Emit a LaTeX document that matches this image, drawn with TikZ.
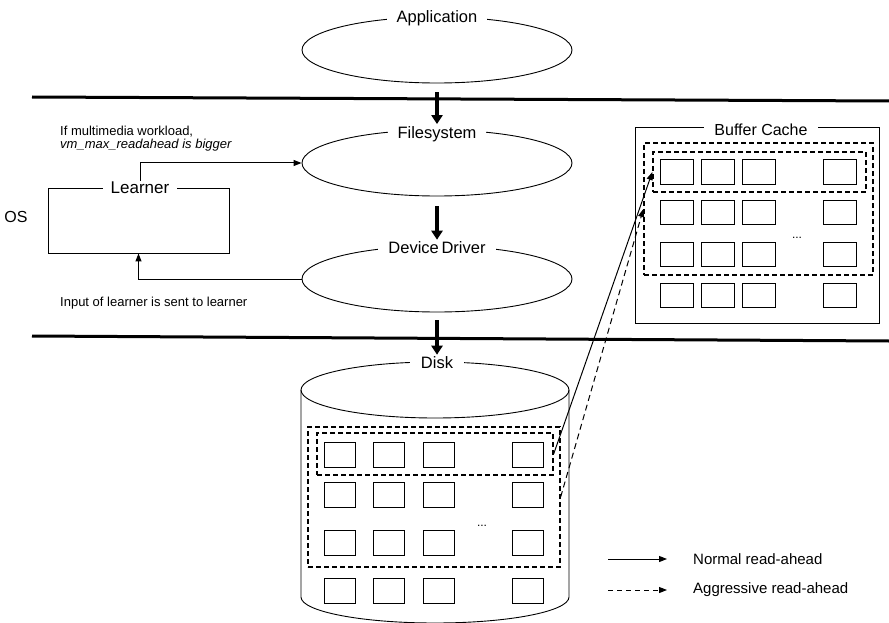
\documentclass[tikz,border=0pt]{standalone}
\usepackage{fontspec}
\setmainfont{Liberation Sans}
\usetikzlibrary{shapes.geometric,arrows.meta}
\begin{document}
\begin{tikzpicture}[x=1pt,y=-1pt,
  lbl/.style={fill=white,inner xsep=10pt,inner ysep=1pt,font=\fontsize{16.5}{18}\selectfont},
  layer/.style={ellipse,draw,line width=0.9pt,minimum width=270pt,minimum height=66pt,inner sep=0pt},
  dblk/.style={draw,line width=1pt,minimum width=31pt,minimum height=25pt,inner sep=0pt},
  cblk/.style={draw,line width=1pt,minimum width=33pt,minimum height=24pt,inner sep=0pt},
  flow/.style={line width=3.5pt,-{Triangle[width=11pt,length=9pt]}},
  conn/.style={line width=1pt,-{Triangle[width=6pt,length=8pt]}},
  dashbox/.style={draw,line width=1.3pt,dash pattern=on 5pt off 3pt,inner sep=0pt},
  divider/.style={line width=3pt},
  note/.style={font=\fontsize{13}{13}\selectfont,align=left,inner sep=0pt},
  plainbox/.style={draw,line width=0.9pt,inner sep=0pt}
]
\useasboundingbox (0,0) rectangle (889,623);

% layer dividers
\coordinate (t1) at (32,97);  \coordinate (t2) at (889,101);
\coordinate (b1) at (32,336); \coordinate (b2) at (889,341);
\draw[divider] (t1) -- (t2);
\draw[divider] (b1) -- (b2);

% OS label
\node[font=\fontsize{16}{18}\selectfont,inner sep=0pt] (os) at (16,217) {OS};

% layer ellipses
\node[layer] (app) at (437,50) {};
\node[lbl] (appl) at (437,18) {Application};
\node[layer] (fs) at (437,163) {};
\node[lbl] (fsl) at (437,134) {Filesystem};
\node[layer] (dd) at (437,279) {};
\node[lbl] (ddl) at (437,248) {Device\,Driver};

% disk cylinder
\draw[line width=0.9pt] (435,390) ellipse [x radius=134pt, y radius=28pt];
\draw[line width=0.9pt] (301,390) -- (301,597) arc[start angle=180, end angle=360, x radius=134pt, y radius=26pt] -- (569,390);
\node[lbl,inner xsep=11pt] (diskl) at (437,363) {Disk};

% flow arrows
\draw[flow,shorten <=9pt,shorten >=1pt] (app.south) -- (fsl.north);
\draw[flow,shorten <=10pt,shorten >=1pt] (fs.south) -- (ddl.north);
\draw[flow,shorten <=8pt,shorten >=1pt] (dd.south) -- (diskl.north);

% learner
\node[plainbox,minimum width=181pt,minimum height=65pt] (learner) at (138.5,220.5) {};
\node[lbl,inner xsep=8pt,font=\fontsize{17}{18}\selectfont] (ll) at (140,188) {Learner};
\draw[conn] (ll.north) |- (fs.west);
\draw[conn] (dd.west) -| (learner.south);
\node[note,anchor=west] (n1) at (60,139) {If multimedia workload,\\\textit{vm\_max\_readahead is bigger}};
\node[note,anchor=west] (n2) at (60,303) {Input of learner is sent to learner};

% disk blocks
\foreach \r/\y in {1/454.5,2/495,3/542.5,4/590.5}{
  \foreach \c/\x in {1/340,2/389,3/438.5,4/527.5}{
    \node[dblk] (d\r\c) at (\x,\y) {};
  }
}
\node[font=\fontsize{12}{12}\selectfont,inner sep=0pt] (ddots) at (482,526) {...};
\node[dashbox,minimum width=252pt,minimum height=140pt] (douter) at (434,497) {};
\node[dashbox,minimum width=236pt,minimum height=42pt] (dinner) at (435,454) {};

% buffer cache
\node[plainbox,minimum width=244pt,minimum height=196pt] (cache) at (757,225) {};
\node[lbl,inner xsep=10pt,font=\fontsize{16}{18}\selectfont] (cachel) at (761,130) {Buffer Cache};
\foreach \r/\y in {1/172,2/212.5,3/254,4/295}{
  \foreach \c/\x in {1/676.5,2/717.5,3/759,4/840}{
    \node[cblk] (c\r\c) at (\x,\y) {};
  }
}
\node[font=\fontsize{12}{12}\selectfont,inner sep=0pt] (cdots) at (797,238) {...};
\node[dashbox,minimum width=229pt,minimum height=132pt] (couter) at (758.5,209) {};
\node[dashbox,minimum width=213pt,minimum height=40pt] (cinner) at (759.5,172) {};

% read-ahead arrows
\draw[conn] (dinner.east) -- (cinner.west);
\draw[conn,dash pattern=on 6pt off 4pt] (douter.east) -- (couter.west);

% legend
\coordinate (ls1) at (608,559); \coordinate (le1) at (667,559);
\coordinate (ls2) at (608,590); \coordinate (le2) at (667,590);
\draw[conn] (ls1) -- (le1);
\draw[conn,dash pattern=on 5pt off 4pt] (ls2) -- (le2);
\node[anchor=west,inner sep=0pt,font=\fontsize{15}{16}\selectfont] (lt1) at (693,559) {Normal read-ahead};
\node[anchor=west,inner sep=0pt,font=\fontsize{15}{16}\selectfont] (lt2) at (693,590) {Aggressive read-ahead};
\end{tikzpicture}
\end{document}
